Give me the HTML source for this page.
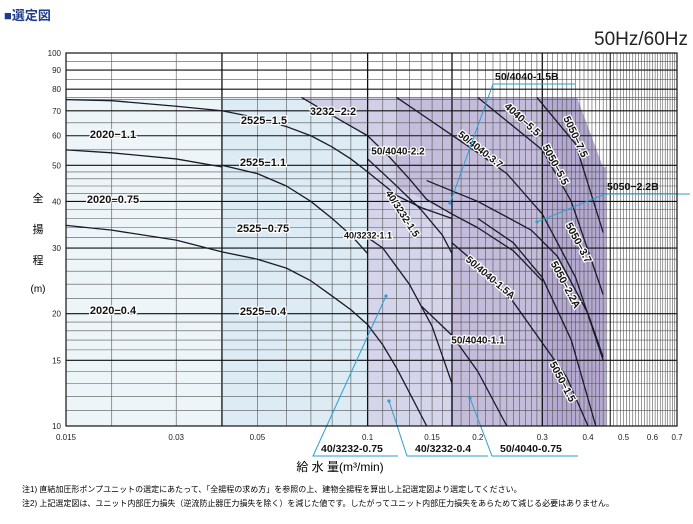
<!DOCTYPE html>
<html><head><meta charset="utf-8"><style>
body{margin:0;background:#fff;}
svg{display:block;font-family:"Liberation Sans","Noto Sans CJK JP",sans-serif;}
</style></head><body>
<svg id="c" width="693" height="524" viewBox="0 0 693 524" xmlns="http://www.w3.org/2000/svg">
<text x="4" y="20" font-size="13" font-weight="bold" fill="#1d3c8c">■選定図</text>
<text x="688" y="45" font-size="19" text-anchor="end" fill="#222">50Hz/60Hz</text>
<g id="bg"></g><g id="grid"></g><g id="curves"></g><g id="labels"></g><g id="axes"></g>
<text x="38" y="202" font-size="11" text-anchor="middle">全</text>
<text x="38" y="233" font-size="11" text-anchor="middle">揚</text>
<text x="38" y="264" font-size="11" text-anchor="middle">程</text>
<text x="38" y="292" font-size="10" text-anchor="middle">(m)</text>
<text x="340" y="471" font-size="12" text-anchor="middle">給 水 量(m³/min)</text>
<text x="22" y="492" font-size="8">注1) 直結加圧形ポンプユニットの選定にあたって、「全揚程の求め方」を参照の上、建物全揚程を算出し上記選定図より選定してください。</text>
<text x="22" y="506" font-size="8">注2) 上記選定図は、ユニット内部圧力損失（逆流防止器圧力損失を除く）を減じた値です。したがってユニット内部圧力損失をあらためて減じる必要はありません。</text>
</svg>
<script>
const xTicks=[0.015,0.03,0.05,0.1,0.15,0.2,0.3,0.4,0.5,0.6,0.7];
const yTicks=[10,15,20,30,40,50,60,70,80,90,100];
const c2020_11=[[0.015,75],[0.02,74.5],[0.03,72],[0.04,70]];
const c2020_075=[[0.015,55],[0.02,54],[0.03,52],[0.04,49.5]];
const c2020_04=[[0.015,34.5],[0.02,33.5],[0.03,31.5],[0.04,29.3]];
const c2525_15=[[0.04,70],[0.05,67],[0.06,63.5],[0.07,60],[0.08,56],[0.09,52],[0.1,48],[0.11,44.5],[0.12,41.5],[0.14,38.5],[0.17,36]];
const c2525_11=[[0.04,50],[0.05,47.5],[0.06,44],[0.07,40],[0.08,36],[0.09,32.5],[0.1,29]];
const c2525_04=[[0.04,29.3],[0.05,28],[0.06,26.5],[0.07,24.5],[0.08,22.3],[0.09,20.5],[0.1,18.7],[0.11,16.5],[0.12,14.3],[0.13,12.3],[0.145,10]];
const c3232_22=[[0.066,76],[0.08,68],[0.1,60],[0.115,52.5],[0.13,46],[0.145,40.5],[0.17,37],[0.2,34],[0.25,29.5],[0.3,24.5]];
const c3232_15=[[0.1,52],[0.12,44],[0.14,38],[0.16,32.5],[0.17,29],[0.17,26]];
const c3232_11=[[0.1,32],[0.11,30],[0.13,24],[0.15,18.5],[0.17,13],[0.17,10]];
const c4040_22=[[0.12,76],[0.145,67],[0.2,54],[0.24,47.5],[0.3,37],[0.33,31],[0.37,25],[0.44,15]];
const c4040_55=[[0.2,76],[0.3,55],[0.36,40],[0.44,22.5]];
const c5050_75=[[0.29,76],[0.37,57],[0.44,33]];
const c4040_15A=[[0.17,31],[0.2,27],[0.25,21.5],[0.3,16.7]];
const c5050_22A=[[0.2,36],[0.25,31],[0.3,25],[0.36,17],[0.42,10]];
const c4040_11=[[0.14,21],[0.17,17.5],[0.2,14],[0.24,10]];
const c5050_15=[[0.3,16.7],[0.35,13.5],[0.4,10]];
const c5050_37=[[0.145,45.5],[0.2,40],[0.28,33.5],[0.33,28.5],[0.4,20],[0.44,15.3]];
const allCurves=[c2020_11,c2020_075,c2020_04,c2525_15,c2525_11,c2525_04,c3232_22,c3232_15,c3232_11,c4040_22,c4040_55,c5050_75,c4040_15A,c5050_22A,c4040_11,c5050_15,c5050_37];
const curveNames=['curve-2020-1-1','curve-2020-0-75','curve-2020-0-4','curve-2525-1-5','curve-2525-1-1','curve-2525-0-4','curve-3232-2-2','curve-40-3232-1-5','curve-40-3232-1-1','curve-50-4040-2-2','curve-4040-5-5','curve-5050-7-5','curve-50-4040-1-5a','curve-5050-2-2a','curve-50-4040-1-1','curve-5050-1-5','curve-5050-3-7'];
const bandEdges=[0.015,0.04,0.1,0.17,0.3,0.46];
const bandColors=['#eef5f9','#dcebf4','#d4d4ea','#c4bcdb','#b4a9d0'];

const X0=66,X1=677,Y0=426,Y1=53;
const lx0=Math.log10(0.015),lx1=Math.log10(0.7);
function sx(v){return X0+(Math.log10(v)-lx0)/(lx1-lx0)*(X1-X0);}
function sy(v){return Y0-(Math.log10(v)-1)*(Y0-Y1);}
const NS='http://www.w3.org/2000/svg';
function mk(tag,parent,attrs){const e=document.createElementNS(NS,tag);for(const k in attrs)e.setAttribute(k,attrs[k]);parent.appendChild(e);return e;}
const bg=document.getElementById('bg'),grid=document.getElementById('grid'),cv=document.getElementById('curves'),ax=document.getElementById('axes'),lb=document.getElementById('labels');
const svg=document.getElementById('c');
const defs=mk('defs',svg,{});
const cp=mk('clipPath',defs,{id:'env'});
const topY=sy(76);
mk('polygon',cp,{points:`${X0},${topY} 577,${topY} 603,167 606,167 606,${Y0} ${X0},${Y0}`});
for(let i=0;i<bandColors.length;i++){
  const r=mk('rect',bg,{x:sx(bandEdges[i]),y:topY,width:sx(bandEdges[i+1])-sx(bandEdges[i]),height:Y0-topY,fill:bandColors[i],'clip-path':'url(#env)'});
  
  
}
const tp=mk('polygon',bg,{points:`${sx(0.066)},${topY} ${sx(0.12)},${topY} ${sx(0.12)},${sy(46)} ${sx(0.1)},${sy(60)} ${sx(0.08)},${sy(68)}`,fill:'#d0cfe6'});


const tp2=mk('polygon',bg,{points:`${sx(0.12)},${topY} ${sx(0.17)},${topY} ${sx(0.17)},${sy(37)} ${sx(0.12)},${sy(44)}`,fill:'#c4bddb'});


const vx=[0.015,0.02,0.03,0.04,0.05,0.06,0.07,0.08,0.09];
for(let v=10;v<=70;v++)vx.push(v/100);
vx.forEach(v=>{
  const bold=[0.04,0.1,0.17,0.3].some(b=>Math.abs(b-v)<1e-6);
  const l=mk('line',grid,{x1:sx(v),x2:sx(v),y1:Y1,y2:Y0,stroke:bold?'#111':'#555','stroke-width':bold?1.3:0.6});
  
  
});
const hy=[];
for(let v=10;v<20;v++)hy.push(v);
for(let v=20;v<50;v+=2)hy.push(v);
for(let v=50;v<=100;v+=5)hy.push(v);
hy.push(76);
hy.forEach(v=>{
  const bold=yTicks.includes(v);
  const l=mk('line',grid,{x1:X0,x2:X1,y1:sy(v),y2:sy(v),stroke:bold?'#111':'#555','stroke-width':bold?1.1:0.6});
  
  
});
mk('line',grid,{x1:sx(0.46),x2:sx(0.46),y1:Y1,y2:Y0,stroke:'#111','stroke-width':1});
const fr=mk('rect',ax,{x:X0,y:Y1,width:X1-X0,height:Y0-Y1,fill:'none',stroke:'#111','stroke-width':1.2});


allCurves.forEach((pts,i)=>{
  const p=mk('polyline',cv,{points:pts.map(d=>sx(d[0])+','+sy(d[1])).join(' '),fill:'none',stroke:'#1a1a2a','stroke-width':1.3,'stroke-linejoin':'round'});
  
  
});
xTicks.forEach(v=>{
  const t=mk('text',ax,{x:sx(v),y:Y0+14,'font-size':8,'text-anchor':'middle',fill:'#222'});
  t.textContent=String(v);
  
  
});
yTicks.forEach(v=>{
  const t=mk('text',ax,{x:X0-5,y:sy(v)+3,'font-size':8,'text-anchor':'end',fill:'#222'});
  t.textContent=String(v);
  
  
});
const labs=[['2020−1.1',113,135,0,11],['2020−0.75',113,200,0,11],['2020−0.4',113,311,0,11],['2525−1.5',264,121,0,11],['2525−1.1',263,163,0,11],['2525−0.75',263,229,0,11],['2525−0.4',263,312,0,11],['3232−2.2',333,112,0,11],['50/4040-2.2',398,152,0,10],['40/3232-1.5',402,214,57,10],['40/3232-1.1',368,236,0,9],['50/4040-3.7',480,150,38,10],['4040−5.5',522,120,42,10.5],['5050−7.5',575,137,65,10.5],['5050−5.5',555,165,62,10.5],['50/4040-1.5A',490,278,40,10],['5050−3.7',578,243,62,10.5],['5050−2.2A',565,285,62,10.5],['50/4040-1.1',478,341,0,10],['5050−1.5',562,382,62,10.5]];
labs.forEach(d=>{
  const t=mk('text',lb,{x:d[1],y:d[2],'font-size':d[4],'font-weight':'bold','text-anchor':'middle','dominant-baseline':'middle',fill:'#111',stroke:'#fff','stroke-width':2.4,'paint-order':'stroke',transform:`rotate(${d[3]} ${d[1]} ${d[2]})`});
  t.textContent=d[0];
  
  
});
const calls=[['50/4040-1.5B',493,80,575,[493,86],[450,203]],['5050−2.2B',605,190,690,[605,193],[537,222]],['40/3232-0.75',319,452,398,[313,458],[386,296]],['40/3232-0.4',413,452,488,[407,458],[389,401]],['50/4040-0.75',498,452,578,[492,458],[470,398]]];
calls.forEach(d=>{
  const g=mk('g',lb,{});
  
  
  const t=mk('text',g,{x:d[1]+2,y:d[2],'font-size':10.5,'font-weight':'bold',fill:'#111'});
  t.textContent=d[0];
  mk('polyline',g,{points:`${d[3]},${d[2]+4} ${d[4][0]},${d[2]+4} ${d[5][0]},${d[5][1]}`,fill:'none',stroke:'#2a9fd0','stroke-width':1});
  mk('circle',g,{cx:d[5][0],cy:d[5][1],r:1.6,fill:'#2a9fd0'});
});
</script>
</body></html>
